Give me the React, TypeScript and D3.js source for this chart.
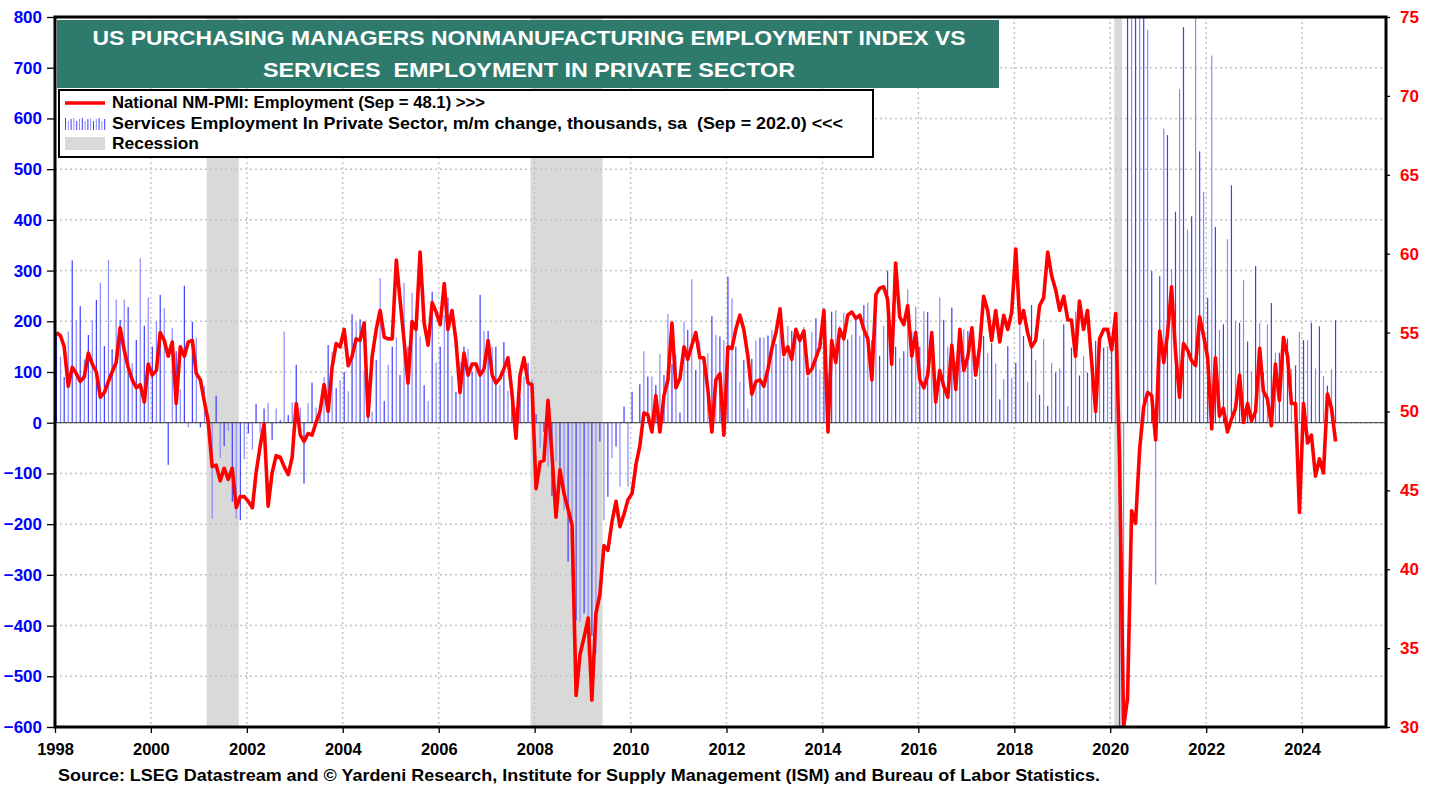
import { useEffect, useRef } from "react";
import * as d3 from "d3";

const W = 1438;
const H = 787;
const plot = { left: 55, right: 1386, top: 17, bottom: 727 };
const FONT = "Arial, 'Liberation Sans', Helvetica, sans-serif";

// monthly, Jan 1998 .. Sep 2024
const pmiEmployment = [
  55.0, 54.8, 54.1, 51.6, 52.8, 52.4, 51.9, 52.2, 53.7, 53.0, 52.5, 50.9, // 1998
  51.2, 51.9, 52.5, 53.1, 55.3, 53.9, 52.8, 52.0, 51.5, 51.7, 50.6, 53.0, // 1999
  52.3, 52.6, 55.0, 54.5, 53.5, 54.4, 50.5, 54.1, 53.5, 54.4, 54.5, 52.4, // 2000
  52.0, 50.6, 49.4, 46.5, 46.6, 45.6, 46.4, 45.7, 46.4, 43.9, 44.6, 44.6, // 2001
  44.3, 43.9, 46.1, 47.8, 49.2, 44.0, 46.1, 47.2, 47.1, 46.5, 46.0, 47.1, // 2002
  50.5, 48.5, 48.1, 48.6, 48.5, 49.3, 50.0, 51.7, 50.0, 52.8, 54.3, 54.1, // 2003
  55.2, 52.9, 53.5, 54.6, 54.5, 55.6, 49.7, 53.5, 55.2, 56.4, 54.7, 54.6, // 2004
  54.6, 59.6, 57.1, 54.5, 51.8, 55.7, 55.2, 60.1, 55.6, 54.2, 56.9, 56.3, // 2005
  55.5, 58.1, 55.2, 56.4, 54.5, 51.2, 53.7, 52.3, 53.0, 53.0, 52.3, 52.7, // 2006
  54.5, 52.3, 51.8, 52.1, 52.7, 53.4, 51.2, 48.3, 52.3, 53.4, 51.8, 51.7, // 2007
  45.1, 46.8, 46.9, 50.7, 47.3, 43.3, 46.3, 44.8, 43.8, 42.8, 32.0, 34.6, // 2008
  35.7, 36.9, 31.7, 37.2, 38.4, 41.5, 41.2, 43.0, 44.3, 42.7, 43.5, 44.4, // 2009
  44.8, 46.7, 47.8, 49.9, 49.8, 48.7, 51.0, 48.7, 51.0, 52.0, 55.6, 51.5, // 2010
  52.1, 54.1, 53.3, 54.2, 55.0, 53.4, 53.4, 51.4, 48.7, 52.0, 52.4, 48.5, // 2011
  54.1, 54.0, 55.2, 56.1, 55.2, 53.5, 51.1, 51.9, 52.0, 51.6, 52.7, 54.0, // 2012
  55.0, 56.5, 53.6, 54.1, 53.3, 55.2, 54.5, 55.1, 52.4, 52.7, 53.4, 54.1, // 2013
  56.4, 48.7, 54.5, 53.1, 55.2, 54.6, 56.1, 56.3, 55.9, 56.1, 55.2, 54.6, // 2014
  52.0, 57.4, 57.8, 57.9, 57.1, 53.0, 59.4, 56.0, 55.5, 56.7, 53.5, 55.0, // 2015
  52.0, 51.5, 52.3, 55.0, 50.6, 52.6, 51.6, 50.9, 54.2, 51.4, 55.2, 52.6, // 2016
  53.5, 55.3, 52.3, 54.1, 57.3, 56.4, 54.5, 56.4, 54.4, 56.1, 55.2, 56.3, // 2017
  60.3, 55.6, 56.4, 55.0, 54.1, 54.5, 56.7, 57.2, 60.1, 58.6, 57.7, 56.4, // 2018
  57.3, 55.8, 55.8, 53.5, 57.0, 55.2, 56.4, 53.2, 50.0, 54.6, 55.2, 55.2, // 2019
  53.9, 56.2, 47.0, 30.0, 31.8, 43.7, 42.9, 47.6, 50.3, 51.2, 51.0, 48.2, // 2020
  55.1, 53.1, 54.9, 57.9, 53.8, 50.9, 54.3, 53.9, 53.2, 52.9, 56.0, 54.8, // 2021
  53.4, 48.9, 53.4, 49.7, 50.2, 48.7, 49.5, 50.2, 52.3, 49.3, 50.5, 49.4, // 2022
  50.0, 54.0, 51.3, 50.8, 49.1, 53.0, 50.7, 54.7, 53.5, 50.5, 50.5, 43.6, // 2023
  50.5, 48.0, 48.5, 45.9, 47.0, 46.1, 51.1, 50.2, 48.1, // 2024
];

// thousands, m/m change, Jan 1998 .. Sep 2024
const servicesChange = [
  179, 130, 90, 180, 320, 202, 230, 125, 173, 202, 242, 276, // 1998
  151, 321, 145, 243, 203, 243, 228, 117, 163, 324, 191, 247, // 1999
  150, 200, 252, 226, -83, 187, 141, 66, 270, -9, 199, 168, // 2000
  -9, 73, -10, -189, 53, -70, -46, -16, -156, -189, -192, -72, // 2001
  -21, -53, 37, -21, 28, 39, -34, 28, 5, 180, 15, 40, // 2002
  114, 30, -120, 39, 79, 30, 25, 90, 153, 140, 68, 84, // 2003
  100, 62, 214, 199, 204, 103, 60, 22, 124, 285, 43, 114, // 2004
  150, 168, 94, 276, 150, 256, 186, 170, 74, 43, 258, 119, // 2005
  150, 212, 247, 93, 61, 120, 150, 145, 101, 119, 252, 181, // 2006
  181, 150, 150, 74, 159, 63, 45, 30, 50, 91, 118, 85, // 2007
  17, -50, -18, -87, -145, -77, -120, -172, -274, -300, -390, -392, // 2008
  -376, -458, -420, -455, -37, -192, -146, -70, -47, -126, 32, -126, // 2009
  61, 0, 76, 141, 91, 91, 74, 135, 94, 214, 116, 134, // 2010
  20, 199, 183, 283, 104, 160, 130, 137, 210, 173, 170, 163, // 2011
  288, 245, 150, 81, 124, 28, 126, 162, 168, 168, 172, 183, // 2012
  155, 189, 129, 191, 181, 168, 170, 189, 91, 179, 206, 105, // 2013
  226, 97, 219, 222, 190, 217, 164, 174, 203, 171, 232, 237, // 2014
  163, 200, 132, 191, 300, 180, 150, 128, 141, 263, 180, 229, // 2015
  150, 220, 218, 130, 40, 247, 203, 150, 227, 120, 160, 184, // 2016
  181, 150, 86, 150, 171, 137, 157, 117, 46, 86, 151, 88, // 2017
  118, 193, 171, 81, 232, 124, 55, 165, 33, 118, 99, 107, // 2018
  194, 33, 148, 219, 93, 132, 99, 120, 161, 130, 148, 151, // 2019
  150, 200, -1300, -16500, 2900, 4100, 1300, 1000, 900, 775, 299, -319, // 2020
  289, 580, 567, 303, 416, 658, 780, 381, 407, 850, 535, 455, // 2021
  246, 724, 386, 183, 194, 362, 468, 201, 197, 281, 160, 101, // 2022
  309, 197, 99, 194, 236, 138, 138, 150, 166, 106, 113, 179, // 2023
  163, 163, 197, 107, 190, 92, 73, 106, 202, // 2024
];

const recessionStart = ["2001-03-01", "2007-12-01", "2020-02-01"];
const recessionEnd = ["2001-11-01", "2009-06-01", "2020-04-01"];

const leftTicks = [-600, -500, -400, -300, -200, -100, 0, 100, 200, 300, 400, 500, 600, 700, 800];
const rightTicks = [30, 35, 40, 45, 50, 55, 60, 65, 70, 75];
const yearTicks = [1998, 2000, 2002, 2004, 2006, 2008, 2010, 2012, 2014, 2016, 2018, 2020, 2022, 2024];

const titleLines = [
  "US PURCHASING MANAGERS NONMANUFACTURING EMPLOYMENT INDEX VS",
  "SERVICES  EMPLOYMENT IN PRIVATE SECTOR",
];
const legendLabels = [
  "National NM-PMI: Employment (Sep = 48.1) >>>",
  "Services Employment In Private Sector, m/m change, thousands, sa  (Sep = 202.0) <<<",
  "Recession",
];
const sourceNote =
  "Source: LSEG Datastream and \u00A9 Yardeni Research, Institute for Supply Management (ISM) and Bureau of Labor Statistics.";

// rendered text widths in the original artwork
const titleWidths = [873, 532];
const legendWidths = [373, 731, 87];
const sourceWidth = 1042;

const parseDay = d3.timeParse("%Y-%m-%d");

export default function App() {
  const ref = useRef<SVGSVGElement>(null);

  useEffect(() => {
    const svg = d3.select(ref.current);
    svg.selectAll("*").remove();

    const x = d3
      .scaleTime()
      .domain([new Date(1998, 0, 1), new Date(2025, 9, 1)])
      .range([plot.left, plot.right]);
    const yL = d3.scaleLinear().domain([-600, 800]).range([plot.bottom, plot.top]);
    const yR = d3.scaleLinear().domain([30, 75]).range([plot.bottom, plot.top]);
    const dates = pmiEmployment.map((_, i) => new Date(1998, i, 12));

    svg
      .append("defs")
      .append("clipPath")
      .attr("id", "plotClip")
      .append("rect")
      .attr("x", plot.left)
      .attr("y", plot.top)
      .attr("width", plot.right - plot.left)
      .attr("height", plot.bottom - plot.top);

    // recessions
    svg
      .append("g")
      .selectAll("rect")
      .data(recessionStart)
      .join("rect")
      .attr("x", (d) => x(parseDay(d)!))
      .attr("width", (d, i) => x(parseDay(recessionEnd[i])!) - x(parseDay(d)!))
      .attr("y", plot.top)
      .attr("height", plot.bottom - plot.top)
      .attr("fill", "#d9d9d9");

    // grid
    const grid = svg
      .append("g")
      .attr("stroke", "#c4c4c4")
      .attr("stroke-width", 1.5)
      .attr("stroke-dasharray", "2,3");
    grid
      .selectAll("line.h")
      .data(leftTicks.filter((v) => v > -600 && v < 800))
      .join("line")
      .attr("class", "h")
      .attr("x1", plot.left)
      .attr("x2", plot.right)
      .attr("y1", (d) => yL(d))
      .attr("y2", (d) => yL(d));
    grid
      .selectAll("line.v")
      .data(yearTicks.filter((y) => y > 1998))
      .join("line")
      .attr("class", "v")
      .attr("x1", (d) => x(new Date(d, 0, 1)))
      .attr("x2", (d) => x(new Date(d, 0, 1)))
      .attr("y1", plot.top)
      .attr("y2", plot.bottom);

    const inner = svg.append("g").attr("clip-path", "url(#plotClip)");

    // services bars
    inner
      .append("g")
      .selectAll("rect")
      .data(servicesChange)
      .join("rect")
      .attr("x", (d, i) => x(dates[i]) - 0.6)
      .attr("width", 1.2)
      .attr("y", (d) => yL(Math.max(0, d)))
      .attr("height", (d) => Math.abs(yL(d) - yL(0)))
      .attr("fill", (d, i) => (i % 2 ? "#8a8aff" : "#3d3dff"));

    // zero line
    inner
      .append("line")
      .attr("x1", plot.left)
      .attr("x2", plot.right)
      .attr("y1", yL(0))
      .attr("y2", yL(0))
      .attr("stroke", "#333")
      .attr("stroke-width", 1);

    // pmi line
    const line = d3
      .line<number>()
      .x((d, i) => x(dates[i]))
      .y((d) => yR(d));
    inner
      .append("path")
      .datum(pmiEmployment)
      .attr("d", line)
      .attr("fill", "none")
      .attr("stroke", "#ff0000")
      .attr("stroke-width", 3.6)
      .attr("stroke-linejoin", "round");

    // left axis
    const axL = svg.append("g").attr("transform", `translate(${plot.left},0)`);
    axL.call(d3.axisLeft(yL).tickValues(d3.range(-600, 801, 20)).tickSize(4).tickFormat(() => ""));
    axL.call(
      d3.axisLeft(yL).tickValues(leftTicks).tickSize(8).tickPadding(5).tickFormat(d3.format("d"))
    );
    axL.selectAll(".domain").remove();
    axL.selectAll("line").attr("stroke", "#000").attr("stroke-width", 1.3);
    axL
      .selectAll("text")
      .attr("fill", "#0000ff")
      .attr("font-family", FONT)
      .attr("font-size", 17)
      .attr("font-weight", "bold");

    // right axis
    const axR = svg.append("g").attr("transform", `translate(${plot.right},0)`);
    axR.call(d3.axisRight(yR).tickValues(d3.range(30, 76, 1)).tickSize(4).tickFormat(() => ""));
    axR.call(
      d3.axisRight(yR).tickValues(rightTicks).tickSize(4).tickPadding(10).tickFormat(d3.format("d"))
    );
    axR.selectAll(".domain").remove();
    axR.selectAll("line").attr("stroke", "#000").attr("stroke-width", 1.3);
    axR
      .selectAll("text")
      .attr("fill", "#ff0000")
      .attr("font-family", FONT)
      .attr("font-size", 17)
      .attr("font-weight", "bold");

    // bottom axis
    const axB = svg.append("g").attr("transform", `translate(0,${plot.bottom})`);
    axB.call(
      d3
        .axisBottom(x)
        .tickValues(d3.timeMonth.range(new Date(1998, 0, 1), new Date(2025, 9, 2), 2))
        .tickSize(3)
        .tickFormat(() => "")
    );
    axB.call(
      d3
        .axisBottom(x)
        .tickValues(yearTicks.map((y) => new Date(y, 0, 1)))
        .tickSize(6)
        .tickPadding(10)
        .tickFormat(d3.timeFormat("%Y") as any)
    );
    axB.selectAll(".domain").remove();
    axB.selectAll("line").attr("stroke", "#000").attr("stroke-width", 1.3);
    axB
      .selectAll("text")
      .attr("fill", "#000")
      .attr("font-family", FONT)
      .attr("font-size", 16.5)
      .attr("font-weight", "bold");

    // frame
    svg
      .append("rect")
      .attr("x", plot.left)
      .attr("y", plot.top)
      .attr("width", plot.right - plot.left)
      .attr("height", plot.bottom - plot.top)
      .attr("fill", "none")
      .attr("stroke", "#000")
      .attr("stroke-width", 3);

    // title box
    svg
      .append("rect")
      .attr("x", 57)
      .attr("y", 20)
      .attr("width", 942)
      .attr("height", 68)
      .attr("fill", "#2e7b6d");
    svg
      .append("g")
      .selectAll("text")
      .data(titleLines)
      .join("text")
      .attr("x", 529)
      .attr("y", (d, i) => 45 + i * 32)
      .attr("text-anchor", "middle")
      .attr("fill", "#fff")
      .attr("font-family", FONT)
      .attr("font-size", 20)
      .attr("font-weight", "bold")
      .attr("textLength", (d, i) => titleWidths[i])
      .attr("lengthAdjust", "spacingAndGlyphs")
      .style("white-space", "pre")
      .text((d) => d);

    // legend
    const lg = svg.append("g");
    lg.append("rect")
      .attr("x", 59)
      .attr("y", 90)
      .attr("width", 814)
      .attr("height", 67)
      .attr("fill", "#fff")
      .attr("stroke", "#000")
      .attr("stroke-width", 2);
    lg.append("line")
      .attr("x1", 65)
      .attr("x2", 105)
      .attr("y1", 103)
      .attr("y2", 103)
      .attr("stroke", "#ff0000")
      .attr("stroke-width", 3.5);
    lg.append("g")
      .selectAll("line")
      .data(d3.range(15))
      .join("line")
      .attr("x1", (k) => 65.5 + k * 2.8)
      .attr("x2", (k) => 65.5 + k * 2.8)
      .attr("y1", 130)
      .attr("y2", (k) => 130 - (k % 3 === 0 ? 12 : k % 3 === 1 ? 9 : 11))
      .attr("stroke", (k) => (k % 2 ? "#8a8aff" : "#3d3dff"))
      .attr("stroke-width", 1);
    lg.append("rect")
      .attr("x", 65)
      .attr("y", 137)
      .attr("width", 40)
      .attr("height", 13)
      .attr("fill", "#d9d9d9");
    lg.selectAll("text")
      .data(legendLabels)
      .join("text")
      .attr("x", 112)
      .attr("y", (d, i) => 108 + i * 20.5)
      .attr("fill", "#000")
      .attr("font-family", FONT)
      .attr("font-size", 16.5)
      .attr("font-weight", "bold")
      .attr("textLength", (d, i) => legendWidths[i])
      .attr("lengthAdjust", "spacingAndGlyphs")
      .style("white-space", "pre")
      .text((d) => d);

    // source
    svg
      .append("text")
      .attr("x", 58)
      .attr("y", 781)
      .attr("fill", "#000")
      .attr("font-family", FONT)
      .attr("font-size", 16.5)
      .attr("font-weight", "bold")
      .attr("textLength", sourceWidth)
      .attr("lengthAdjust", "spacingAndGlyphs")
      .text(sourceNote);
  }, []);

  return (
    <svg
      ref={ref}
      width={W}
      height={H}
      style={{ position: "absolute", left: 0, top: 0, background: "#fff" }}
    />
  );
}
